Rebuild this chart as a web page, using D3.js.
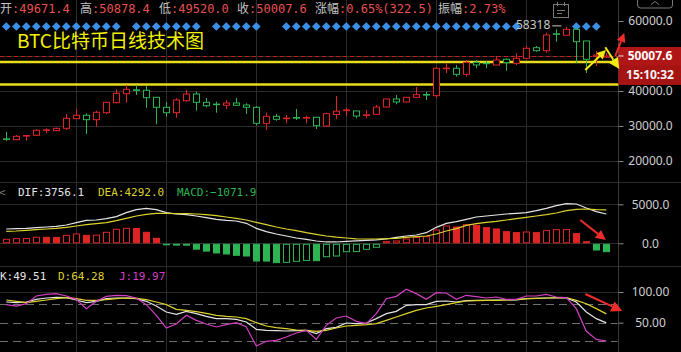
<!DOCTYPE html>
<html lang="zh">
<head>
<meta charset="utf-8">
<script src="https://d3js.org/d3.v7.min.js"></script>
<style>
  body { margin: 0; background: #000; }
  svg { display: block; }
</style>
</head>
<body>
<div id="chart"></div>
<script>
// daily candles (last one is today)
const opens  = [26340, 26090, 27170, 27340, 28800, 28660, 29340, 32090, 33060, 31800,
                33800, 36660, 39230, 40340, 40200, 38200, 35340, 33800, 37230, 39140,
                36770, 36260, 35920, 36570, 36000, 35340, 30770, 32770, 32140, 32430,
                32320, 32490, 30000, 33290, 34460, 34290, 33090, 33340, 35430, 37720,
                36860, 38200, 39000, 38660, 46430, 46490, 44770, 48200, 47970, 47430,
                49060, 47920, 49340, 52370, 51520, 56340, 55920, 57630, 54290, 49900, 49671.4];
const highs  = [28370, 27430, 27430, 29060, 29340, 29520, 33430, 34770, 33630, 34370,
                36940, 40490, 41720, 41720, 41430, 38260, 36770, 37920, 40290, 39800,
                38000, 36940, 37430, 38000, 36490, 35720, 33800, 33430, 33140, 34860,
                32940, 32560, 33800, 38570, 35230, 34350, 34570, 36000, 37800, 38860,
                38300, 41140, 39800, 46770, 47940, 47430, 48860, 48860, 48570, 50000,
                49340, 50770, 52860, 52860, 56660, 57630, 58318, 57700, 54350, 51430, 50878.4];
const lows   = [25710, 25920, 25800, 27230, 27920, 28570, 28860, 32000, 27720, 29800,
                33340, 36490, 36660, 38860, 35230, 30490, 32660, 32370, 36940, 34370,
                35340, 33800, 34860, 35860, 33430, 30090, 28860, 31520, 30770, 31720,
                30770, 29140, 29800, 31920, 32860, 32200, 32200, 33300, 35350, 36200,
                36780, 38090, 37430, 38090, 45140, 44090, 44090, 46490, 46490, 47380,
                45800, 47430, 49290, 51230, 50940, 54090, 55860, 47920, 45140, 47140, 49520.0];
const closes = [26230, 27060, 27290, 28770, 28920, 29340, 32200, 33060, 31800, 33920,
                36770, 39340, 40490, 40230, 38090, 35340, 33800, 37430, 39140, 36770,
                35800, 36140, 36570, 35920, 35340, 30770, 32770, 31920, 32260, 32320,
                32430, 30090, 33520, 34230, 34570, 32860, 33200, 35430, 37720, 36860,
                38200, 38940, 38890, 46490, 46540, 44770, 48200, 47430, 47860, 48860,
                48090, 49340, 52200, 51520, 56000, 56230, 57630, 54090, 49060, 50250, 50007.6];

// MACD panel
const dif  = [1833, 1876, 1919, 2004, 2090, 2175, 2346, 2645, 2944, 2987,
              3158, 3414, 3927, 4312, 4483, 4312, 3927, 3756, 3671, 3500,
              3286, 3073, 2944, 2859, 2560, 1919, 1491, 1192, 936, 679,
              509, 295, 170, 170, 250, 320, 380, 430, 551, 765,
              936, 1064, 1363, 2047, 2560, 2773, 3073, 3372, 3500, 3628,
              3756, 3842, 3927, 4183, 4483, 4824, 5081, 5038, 4526, 4055, 3756.1];
const dea  = [1535, 1577, 1663, 1748, 1833, 1919, 2047, 2218, 2389, 2517,
              2645, 2901, 3201, 3500, 3714, 3842, 3842, 3799, 3799, 3756,
              3671, 3543, 3372, 3201, 2987, 2688, 2389, 2090, 1833, 1620,
              1363, 1150, 936, 780, 680, 570, 551, 551, 594, 637,
              765, 850, 936, 1192, 1577, 1876, 2304, 2517, 2688, 2816,
              2987, 3158, 3329, 3500, 3671, 3884, 4183, 4355, 4397, 4330, 4292.0];
const macd = [513, 600, 610, 780, 770, 760, 1025, 1195, 1025, 1050,
              1410, 1795, 1925, 1900, 1410, 640, -90, -230, -240, -750,
              -1000, -1240, -1370, -1540, -1630, -2270, -2280, -2480, -2440, -2310,
              -2200, -2230, -1720, -1630, -1075, -1060, -770, -510, 215, 300,
              550, 770, 855, 1710, 2220, 2090, 2390, 2310, 2010, 1840,
              1495, 1370, 1450, 1370, 1625, 1750, 1760, 1240, 215, -860, -1071.9];

// KDJ panel
const kVals = [83.7, 82.6, 83.7, 88.0, 90.2, 91.3, 90.7, 86.9, 82.6, 84.8,
               89.1, 90.2, 90.2, 89.1, 84.8, 77.1, 67.3, 63.5, 68.4, 64.6,
               60.3, 56.5, 56.5, 55.4, 51.0, 39.1, 37.4, 36.9, 36.3, 36.9,
               37.4, 32.0, 40.1, 42.3, 49.4, 48.3, 49.4, 56.5, 64.6, 68.4,
               78.2, 79.3, 79.3, 84.8, 85.3, 83.7, 85.8, 86.4, 86.4, 86.9,
               86.9, 86.9, 89.1, 89.7, 90.2, 90.2, 90.2, 83.7, 67.3, 56.5, 49.51];
const dVals = [86.9, 84.8, 82.6, 84.8, 86.9, 89.1, 90.7, 89.1, 86.4, 86.4,
               87.5, 89.1, 90.2, 89.7, 87.5, 83.7, 79.3, 71.7, 70.1, 67.9,
               65.2, 61.9, 60.3, 59.2, 56.5, 49.9, 44.5, 41.8, 40.1, 38.0,
               37.4, 35.8, 37.4, 41.2, 44.5, 45.6, 46.7, 48.3, 53.7, 59.2,
               64.6, 70.1, 73.9, 76.6, 79.3, 82.6, 85.3, 85.8, 86.4, 86.4,
               86.9, 87.5, 89.1, 89.7, 90.2, 90.7, 90.7, 86.4, 80.9, 72.8, 64.28];
const jVals = [79.3, 77.1, 80.9, 93.5, 96.2, 97.3, 93.5, 88.0, 72.8, 84.8,
               92.9, 94.6, 94.0, 90.2, 79.3, 61.9, 41.2, 47.8, 61.9, 53.7,
               47.8, 42.9, 46.7, 49.9, 42.9, 11.8, 19.5, 21.1, 26.5, 33.1,
               37.4, 22.7, 45.6, 57.6, 60.8, 52.1, 48.3, 64.6, 89.1, 92.9,
               104.4, 97.3, 88.0, 98.9, 98.4, 88.0, 94.6, 92.4, 90.2, 91.8,
               88.0, 88.0, 93.5, 93.5, 96.2, 91.8, 90.7, 72.8, 35.8, 22.7, 19.97];

// days with a blue diamond signal above the candles
const signalDays = [0,1,2,3,4,5,6,7,8,9,10,11, 13,14,15,16,17,18,19, 21,22,23,24,25,
  28,29,30,31,32,33,34,35,36,37,38,39,40,41,42,43,44,45,46,47,48,49,50,51, 57,58,59];

const priceTicks = [20000, 30000, 40000, 50000, 60000];
const macdTicks = [0, 5000];
const kdjTicks = [50, 100];
const kdjBands = [20, 50, 80];
const gridDays = [7, 16, 25, 34, 43, 52];
const supportLevels = [48300, 41850];
const lastPrice = 50007.6;
const clockText = "15:10:32";
const headerLabels = ["开", "高", "低", "收", "涨幅", "振幅"];
const headerValues = ["49671.4", "50878.4", "49520.0", "50007.6", "0.65%(322.5)", "2.73%"];
const title = "BTC比特币日线技术图";

const W = 681, H = 352, plotR = 618.5;
const RED = "#e02424", GREEN = "#2db453", YEL = "#ddd12e", WHITE = "#e4e4e4", PINK = "#d23fc4";
const MONO = "'DejaVu Sans Mono', 'Noto Sans CJK SC', monospace";
const SANS = "'Noto Sans', 'Noto Sans CJK SC', sans-serif";

const svg = d3.select("#chart").append("svg")
    .attr("width", W).attr("height", H)
    .style("background", "#000");

const idx = d3.range(opens.length);
const x = d3.scaleBand().domain(idx).range([1.3, 611.3]).paddingInner(0.3).paddingOuter(0.15);
// centre of day i, also usable a little past the last bar
const cx = i => x(0) + x.bandwidth() / 2 + i * x.step();
const px = i => Math.round(cx(i)) + 0.5;

const yP = d3.scaleLinear().domain([20000, 60000]).range([161, 21]);
const yM = d3.scaleLinear().domain([0, 5000]).range([243.3, 204.3]);
const yK = d3.scaleLinear().domain([20, 100]).range([341, 292]);

// grid
const grid = svg.append("g").attr("stroke", "#2c2c2c").attr("stroke-width", 1);
gridDays.forEach(i => grid.append("line").attr("x1", px(i)).attr("x2", px(i)).attr("y1", 0).attr("y2", H));
priceTicks.filter(t => t < 60000).forEach(t =>
    grid.append("line").attr("x1", 0).attr("x2", plotR).attr("y1", Math.round(yP(t)) + 0.5).attr("y2", Math.round(yP(t)) + 0.5));
macdTicks.forEach(t =>
    grid.append("line").attr("x1", 0).attr("x2", plotR).attr("y1", Math.round(yM(t)) + 0.5).attr("y2", Math.round(yM(t)) + 0.5));
grid.append("line").attr("x1", 0).attr("x2", plotR).attr("y1", Math.round(yK(100)) + 0.5).attr("y2", Math.round(yK(100)) + 0.5);
[182.5, 266.5].forEach(y => grid.append("line").attr("x1", 0).attr("x2", W).attr("y1", y).attr("y2", y));
grid.append("line").attr("x1", plotR).attr("x2", plotR).attr("y1", 0).attr("y2", H).attr("stroke", "#3a3a3a");

kdjBands.forEach(t => svg.append("line")
    .attr("x1", 0).attr("x2", plotR - 1)
    .attr("y1", Math.round(yK(t)) + 0.5).attr("y2", Math.round(yK(t)) + 0.5)
    .attr("stroke", "#6e6e6e").attr("stroke-dasharray", "8,5"));

// header
const headerX = [0, 80, 159, 237, 315, 438];
headerLabels.forEach((lab, k) => {
    const t = svg.append("text").attr("x", headerX[k]).attr("y", 12.5)
        .style("font-family", MONO).style("font-size", "12px");
    t.append("tspan").attr("fill", "#c4c4c4").style("font-family", "'Noto Sans CJK SC'").text(lab);
    t.append("tspan").attr("fill", "#e85050").text(":" + headerValues[k]);
});

// signal diamonds
svg.append("g").selectAll("path").data(signalDays).join("path")
    .attr("d", d3.symbol(d3.symbolSquare, 38))
    .attr("transform", i => `translate(${cx(i)},26.5) rotate(45)`)
    .attr("fill", "#3b8fe6");

svg.append("text").attr("x", 17).attr("y", 48)
    .attr("fill", "#f2f000")
    .style("font-family", "'Noto Sans CJK SC'").style("font-size", "19px")
    .text(title);

// support lines and last price line
supportLevels.forEach(p => svg.append("line")
    .attr("x1", 0).attr("x2", plotR).attr("y1", yP(p)).attr("y2", yP(p))
    .attr("stroke", "#e9dc1c").attr("stroke-width", 2.6));
svg.append("line").attr("x1", 0).attr("x2", plotR)
    .attr("y1", Math.round(yP(lastPrice)) + 0.5).attr("y2", Math.round(yP(lastPrice)) + 0.5)
    .attr("stroke", "#c41e1e").attr("stroke-dasharray", "4,3");

// candles
const candles = svg.append("g").selectAll("g").data(idx).join("g")
    .attr("stroke", i => closes[i] >= opens[i] ? RED : GREEN);
candles.append("line")
    .attr("x1", px).attr("x2", px)
    .attr("y1", i => yP(highs[i])).attr("y2", i => yP(lows[i]));
candles.append("rect")
    .attr("x", i => Math.round(x(i)) + 0.5)
    .attr("width", 6)
    .attr("y", i => yP(Math.max(opens[i], closes[i])))
    .attr("height", i => Math.max(0.6, Math.abs(yP(opens[i]) - yP(closes[i]))))
    .attr("fill", "#000");

// highest price marker
const hi = d3.maxIndex(highs);
svg.append("text").attr("x", cx(hi) - 16).attr("y", yP(highs[hi]) + 2)
    .attr("text-anchor", "end").attr("fill", "#c8c8c8")
    .style("font-family", SANS).style("font-size", "12px")
    .text(d3.format("d")(highs[hi]));
svg.append("line").attr("x1", cx(hi) - 14).attr("x2", cx(hi) - 5)
    .attr("y1", yP(highs[hi]) - 1).attr("y2", yP(highs[hi]) - 1).attr("stroke", "#c8c8c8");

// MACD bars: hollow when the bar grows compared with the previous day
svg.append("g").selectAll("rect").data(idx).join("rect")
    .attr("x", i => Math.round(x(i)) + 0.5)
    .attr("width", 6)
    .attr("y", i => macd[i] >= 0 ? yM(macd[i]) : yM(0) + 1)
    .attr("height", i => Math.max(0.5, Math.abs(yM(macd[i]) - yM(0)) - (macd[i] >= 0 ? 0.5 : 1)))
    .attr("stroke", i => macd[i] >= 0 ? RED : GREEN)
    .attr("fill", i => {
        const hollow = i === 0 || macd[i] >= macd[i - 1];
        return hollow ? "#000" : (macd[i] >= 0 ? RED : GREEN);
    });

const lineOf = (vals, y) => d3.line().x((d, i) => cx(i)).y(d => y(d))(vals);
[[dif, WHITE], [dea, YEL]].forEach(([v, c]) =>
    svg.append("path").attr("d", lineOf(v, yM)).attr("fill", "none").attr("stroke", c).attr("stroke-width", 1.2));
[[kVals, WHITE], [dVals, YEL], [jVals, PINK]].forEach(([v, c]) =>
    svg.append("path").attr("d", lineOf(v, yK)).attr("fill", "none").attr("stroke", c).attr("stroke-width", 1.2));

// indicator legends
const last = opens.length - 1;
const f1 = d3.format(".1f"), f2 = d3.format(".2f");
svg.append("text").attr("x", -1).attr("y", 196).attr("fill", "#777")
    .style("font-family", MONO).style("font-size", "11px").text("<");
[["DIF:" + f1(dif[last]), WHITE, 18], ["DEA:" + f1(dea[last]), YEL, 98], ["MACD:" + f1(macd[last]), GREEN, 177]]
    .forEach(([t, c, xx]) => svg.append("text").attr("x", xx).attr("y", 196).attr("fill", c)
        .style("font-family", MONO).style("font-size", "11px").text(t));
[["K:" + f2(kVals[last]), WHITE, 0], ["D:" + f2(dVals[last]), YEL, 58], ["J:" + f2(jVals[last]), PINK, 119]]
    .forEach(([t, c, xx]) => svg.append("text").attr("x", xx).attr("y", 280).attr("fill", c)
        .style("font-family", MONO).style("font-size", "11px").text(t));

// right axes
function rightAxis(scale, ticks, fmt) {
    const g = svg.append("g").attr("transform", `translate(${plotR},0)`)
        .call(d3.axisRight(scale).tickValues(ticks).tickSize(5).tickFormat(fmt));
    g.select(".domain").remove();
    g.selectAll("line").attr("stroke", "#8a8a8a");
    g.selectAll("text").attr("x", 32).attr("text-anchor", "middle")
        .attr("fill", "#cfcfcf").style("font-family", SANS).style("font-size", "12px");
}
rightAxis(yP, priceTicks, f1);
rightAxis(yM, macdTicks, f1);
rightAxis(yK, kdjTicks, f2);

// last price + clock tag
const ly = yP(lastPrice);
svg.append("rect").attr("x", plotR).attr("y", ly - 9).attr("width", W - plotR).attr("height", 19).attr("fill", "#b01616");
svg.append("rect").attr("x", plotR).attr("y", ly + 10).attr("width", W - plotR).attr("height", 19).attr("fill", "#a51313");
svg.append("line").attr("x1", plotR).attr("x2", plotR + 5).attr("y1", ly).attr("y2", ly).attr("stroke", "#e6e6e6");
svg.append("text").attr("x", 650).attr("y", ly + 4.5).attr("text-anchor", "middle").attr("fill", "#fff")
    .style("font-family", SANS).style("font-size", "12px").style("font-weight", "bold").text(f1(lastPrice));
svg.append("text").attr("x", 650).attr("y", ly + 23.5).attr("text-anchor", "middle").attr("fill", "#f4f4f4")
    .style("font-family", SANS).style("font-size", "12px").style("font-weight", "bold").text(clockText);

// hand-drawn arrows (day index, value)
function arrow(y, from, to, color, w, head) {
    const x1 = cx(from[0]), y1 = y(from[1]), x2 = cx(to[0]), y2 = y(to[1]);
    const a = Math.atan2(y2 - y1, x2 - x1);
    const bx = x2 - head * Math.cos(a), by = y2 - head * Math.sin(a);
    svg.append("line").attr("x1", x1).attr("y1", y1).attr("x2", bx).attr("y2", by)
        .attr("stroke", color).attr("stroke-width", w);
    const n = head * 0.5;
    svg.append("path")
        .attr("d", `M${x2},${y2}L${bx - n * Math.sin(a)},${by + n * Math.cos(a)}L${bx + n * Math.sin(a)},${by - n * Math.cos(a)}Z`)
        .attr("fill", color);
}
arrow(yP, [57.9, 46000], [59.97, 51700], "#f2ea10", 2, 9);
arrow(yP, [59.9, 52500], [61.3, 46300], "#f2ea10", 2, 11);
arrow(yP, [60.9, 50000], [61.8, 56600], "#ee2c2c", 2, 9);
arrow(yM, [57.4, 2990], [59.95, 420], "#ee2c2c", 2, 10);
arrow(yK, [57.9, 96.7], [61.6, 69], "#ee2c2c", 2, 11);

// toolbar icons
const ic = svg.append("g").attr("fill", "none").attr("stroke", "#7a7a7a").attr("stroke-width", 1);
ic.append("rect").attr("x", 553.5).attr("y", 4.5).attr("width", 15).attr("height", 13);
ic.append("line").attr("x1", 557.5).attr("x2", 557.5).attr("y1", 2).attr("y2", 6);
ic.append("line").attr("x1", 564.5).attr("x2", 564.5).attr("y1", 2).attr("y2", 6);
ic.append("line").attr("x1", 557).attr("x2", 565).attr("y1", 10.5).attr("y2", 10.5);
ic.append("line").attr("x1", 557).attr("x2", 562).attr("y1", 13.5).attr("y2", 13.5);
ic.append("path").attr("d", "M637.5,0V5a3,3 0 0 0 3,3H669.5a3,3 0 0 0 3,-3V0");
ic.append("path").attr("d", "M651,4.5L655,1.5L659,4.5");
</script>
</body>
</html>
